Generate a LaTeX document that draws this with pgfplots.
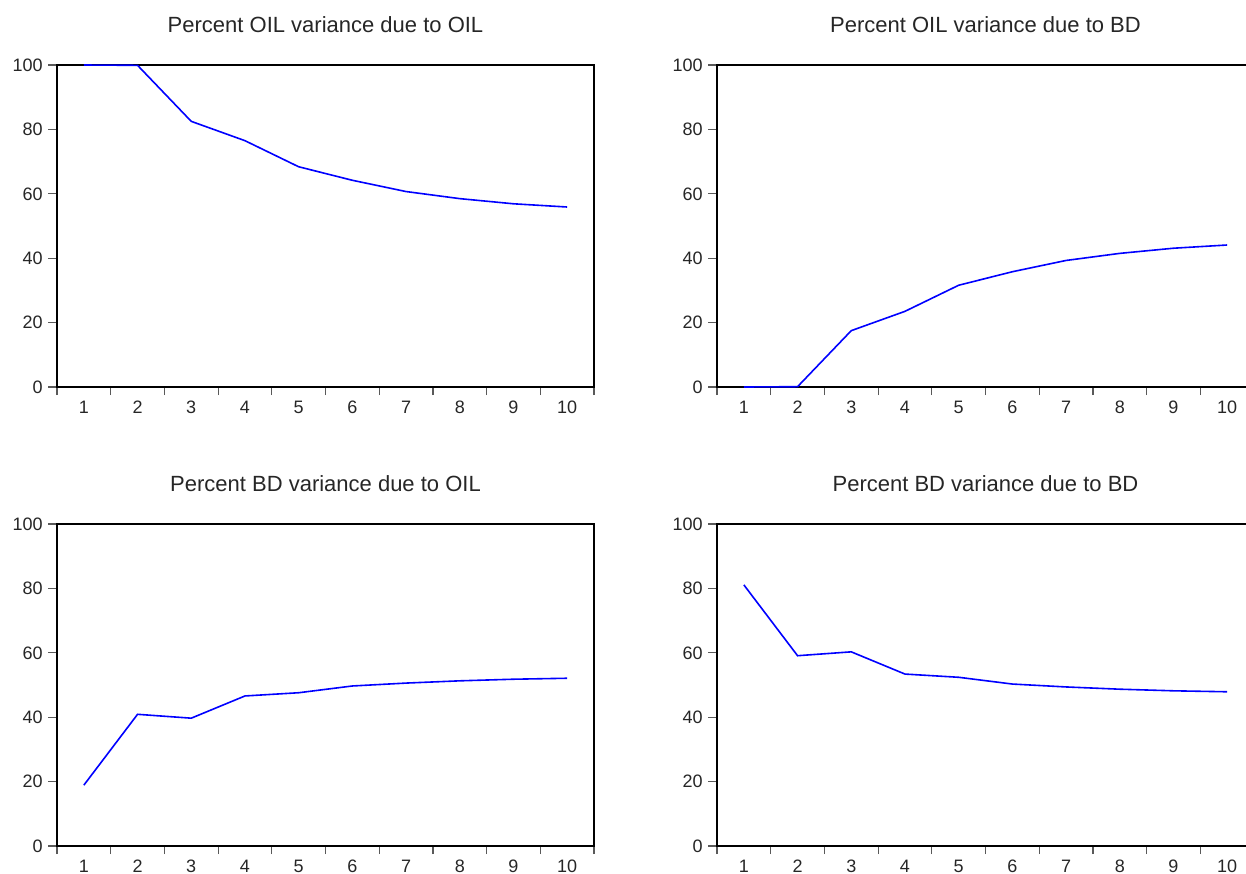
\documentclass[border=0pt]{standalone}
\usepackage{fontspec}
\setmainfont{Liberation Sans}
\usepackage{pgfplots}
\pgfplotsset{compat=1.18}
\pgfplotsset{evstyle/.style={
  scale only axis, width=268.5pt, height=161pt,
  xmin=0.5, xmax=10.5, ymin=0, ymax=100,
  xtick={1,...,10}, ytick={0,20,...,100},
  minor xtick={0.5,1.5,...,10.5},
  xtick pos=left, ytick pos=left,
  tick align=outside,
  major tick length=4.5pt,
  minor tick length=4pt,
  major x tick style={draw=none},
  tick style={gray!70!black, line width=0.6pt},
  axis line style={line width=0.7pt},
  tick label style={font=\fontsize{9}{10}\selectfont, text=black!85},
  xticklabel style={yshift=1pt},
  yticklabel style={xshift=0.8pt},
  /pgf/number format/assume math mode=true,
  title style={font=\fontsize{11}{13}\selectfont, at={(0.5,1)}, anchor=base, yshift=10.5pt, text=black!85},
  clip=false,
}}
\begin{document}
\begin{tikzpicture}
\useasboundingbox (0,0) rectangle (623pt,-436.5pt);
\clip (0,0) rectangle (623pt,-436.5pt);
\begin{axis}[evstyle, at={(28.5pt,-32.5pt)}, anchor=north west, title={Percent OIL variance due to OIL}]
\addplot[blue, line width=0.8pt] coordinates {(1,100) (2,99.9) (3,82.5) (4,76.5) (5,68.4) (6,64.2) (7,60.7) (8,58.5) (9,56.9) (10,55.9)};
\end{axis}
\begin{axis}[evstyle, at={(358.5pt,-32.5pt)}, anchor=north west, title={Percent OIL variance due to BD}]
\addplot[blue, line width=0.8pt] coordinates {(1,0) (2,0.1) (3,17.5) (4,23.5) (5,31.6) (6,35.8) (7,39.3) (8,41.5) (9,43.1) (10,44.1)};
\end{axis}
\begin{axis}[evstyle, at={(28.5pt,-262pt)}, anchor=north west, title={Percent BD variance due to OIL}]
\addplot[blue, line width=0.8pt] coordinates {(1,18.9) (2,40.9) (3,39.7) (4,46.6) (5,47.6) (6,49.7) (7,50.6) (8,51.3) (9,51.8) (10,52.1)};
\end{axis}
\begin{axis}[evstyle, at={(358.5pt,-262pt)}, anchor=north west, title={Percent BD variance due to BD}]
\addplot[blue, line width=0.8pt] coordinates {(1,81.1) (2,59.1) (3,60.3) (4,53.4) (5,52.4) (6,50.3) (7,49.4) (8,48.7) (9,48.2) (10,47.9)};
\end{axis}
\end{tikzpicture}
\end{document}
